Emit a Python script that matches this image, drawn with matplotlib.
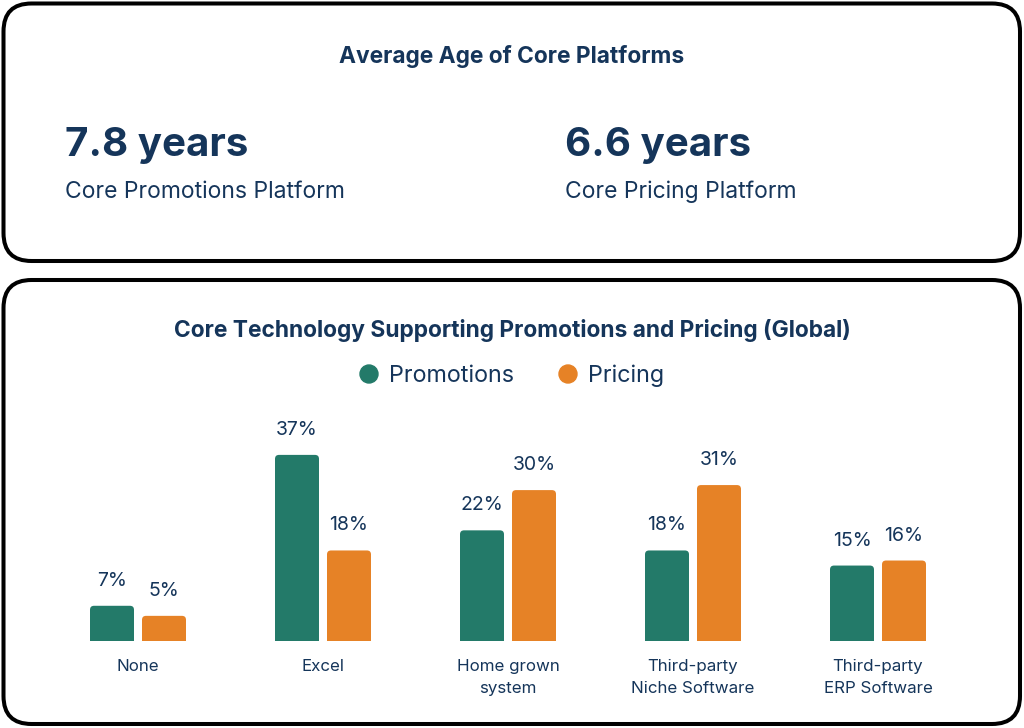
import matplotlib
matplotlib.use("Agg")
import matplotlib.pyplot as plt
import numpy as np
from matplotlib.patches import FancyBboxPatch, Circle

categories = ["None", "Excel", "Home grown\nsystem", "Third-party\nNiche Software", "Third-party\nERP Software"]
promotions = [7, 37, 22, 18, 15]
pricing = [5, 18, 30, 31, 16]
series_names = ["Promotions", "Pricing"]

age_values = ["7.8 years", "6.6 years"]
age_labels = ["Core Promotions Platform", "Core Pricing Platform"]

TEAL = "#237a69"
ORANGE = "#e68226"
NAVY = "#15355a"
FONT = "Inter"

W, H = 1024, 728
fig = plt.figure(figsize=(W / 100, H / 100), dpi=100, facecolor="white")

# overlay in pixel coordinates (origin top-left)
bg = fig.add_axes([0, 0, 1, 1])
bg.set_xlim(0, W)
bg.set_ylim(H, 0)
bg.axis("off")


def panel(x0, y0, x1, y1):
    box = FancyBboxPatch((x0, y0), x1 - x0, y1 - y0,
                         boxstyle="round,pad=0,rounding_size=28",
                         facecolor="white", edgecolor="black", linewidth=2.9)
    bg.add_patch(box)


panel(3.5, 3.5, 1020, 261)
panel(3.5, 280, 1020, 724)

# top panel
bg.text(512, 56, "Average Age of Core Platforms", ha="center", va="center",
        fontsize=16.4, fontweight="bold", color=NAVY, family=FONT)
for x, val, lab in zip([65, 565], age_values, age_labels):
    bg.text(x, 145, val, ha="left", va="center", fontsize=29,
            fontweight="bold", color=NAVY, family=FONT)
    bg.text(x, 192, lab, ha="left", va="center", fontsize=16.5,
            color=NAVY, family=FONT)

# bottom panel title and legend
bg.text(512, 330, "Core Technology Supporting Promotions and Pricing (Global)",
        ha="center", va="center", fontsize=16.4, fontweight="bold",
        color=NAVY, family=FONT)
for cx, name, col in zip([369, 568], series_names, [TEAL, ORANGE]):
    bg.add_patch(Circle((cx, 374), 9, color=col))
    bg.text(cx + 20, 376, name, ha="left", va="center", fontsize=16.8,
            color=NAVY, family=FONT)

# bar chart axes: x=0 at 138px, 185px per category, baseline 641px, 5.03px per %
px_per_unit = 185
px_per_pct = 5.03
left_px = 138 - 0.5 * px_per_unit
right_px = 138 + 4.5 * px_per_unit
base_px = 641
top_px = base_px - 40 * px_per_pct
ax = fig.add_axes([left_px / W, (H - base_px) / H,
                   (right_px - left_px) / W, (base_px - top_px) / H])
ax.set_xlim(-0.5, 4.5)
ax.set_ylim(0, 40)
ax.axis("off")

bw = 44 / px_per_unit
off = 26 / px_per_unit
x = np.arange(len(categories))
b1 = ax.bar(x - off, promotions, bw, color=TEAL)
b2 = ax.bar(x + off, pricing, bw, color=ORANGE)

# rounded tops: redraw each bar as a rounded box extending below the baseline
r_x = 4 / px_per_unit
aspect = (1 / px_per_pct) / (1 / px_per_unit)
for bars in (b1, b2):
    for b in bars:
        b.set_visible(False)
        rb = FancyBboxPatch((b.get_x(), -3), b.get_width(), b.get_height() + 3,
                            boxstyle=f"round,pad=0,rounding_size={r_x}",
                            mutation_aspect=aspect,
                            facecolor=b.get_facecolor(), edgecolor="none")
        ax.add_patch(rb)
        ax.text(b.get_x() + b.get_width() / 2, b.get_height() + 25 / px_per_pct,
                f"{int(b.get_height())}%", ha="center", va="center",
                fontsize=14, color=NAVY, family=FONT, clip_on=False)

for xi, cat in zip(x, categories):
    ax.text(xi, -18 / px_per_pct, cat, ha="center", va="top", fontsize=12.2,
            color=NAVY, family=FONT, linespacing=1.55, clip_on=False)

fig.savefig("out.png", dpi=100, facecolor="white")
